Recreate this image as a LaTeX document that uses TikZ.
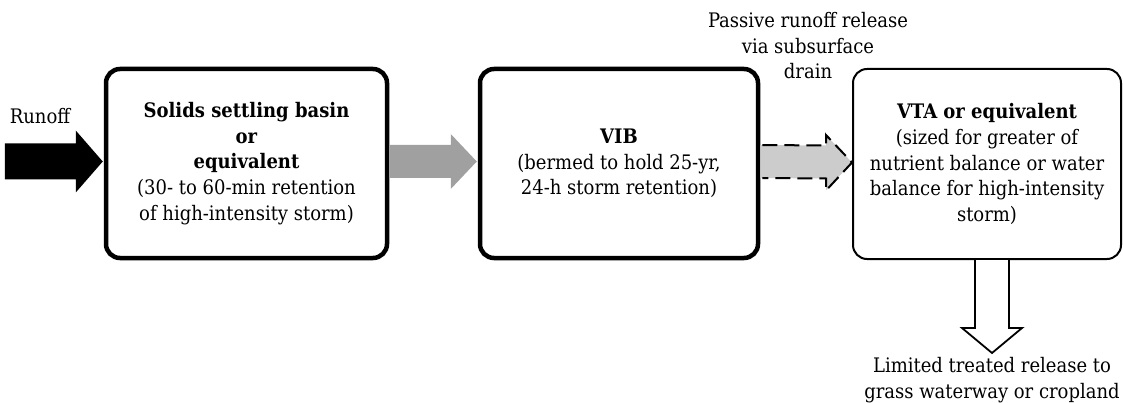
\documentclass[tikz,border=0pt]{standalone}
\usepackage{fontspec}
\setmainfont{DejaVu Serif Condensed}
\usetikzlibrary{calc}
\definecolor{flowgray}{HTML}{A0A0A0}
\definecolor{draingray}{HTML}{CCCCCC}
\tikzset{
  txt/.style={font=\fontsize{20}{25.7}\selectfont, align=center, inner sep=0pt},
  stagebox/.style={txt, draw, rounded corners=14pt, line width=4.5pt},
  thinbox/.style={txt, draw, rounded corners=14pt, line width=2pt},
}
\begin{document}
\begin{tikzpicture}[x=1pt,y=-1pt]
\useasboundingbox (0,0) rectangle (1123,403);

% treatment stages
\node[stagebox, minimum width=281pt, minimum height=189pt] (settle) at (246.5,163.5)
  {\textbf{Solids settling basin}\\\textbf{or}\\\textbf{equivalent}\\(30- to 60-min retention\\of high-intensity storm)};
\node[stagebox, minimum width=278pt, minimum height=189pt] (vib) at (619,163.5)
  {\textbf{VIB}\\(bermed to hold 25-yr,\\24-h storm retention)};
\node[thinbox, minimum width=268pt, minimum height=190pt] (vta) at (987,164)
  {\textbf{VTA or equivalent}\\(sized for greater of\\nutrient balance or water\\balance for high-intensity\\storm)};

% inflow
\fill ($(settle.west)+(-1,-2)$) -- ++(-27,-31) -- ++(0,13) -- ++(-71,0) -- ++(0,36)
  -- ++(71,0) -- ++(0,13) -- cycle;
\node[txt, anchor=north] (runoff) at (40,108) {Runoff};

% settling basin to VIB
\fill[flowgray] ($(settle.east)+(0,-18.5)$) -- ($(vib.west)+(-27,-18.5)$)
  -- ($(vib.west)+(-27,-29.5)$) -- ($(vib.west)+(-1,-2)$) -- ($(vib.west)+(-27,25.5)$)
  -- ($(vib.west)+(-27,14.5)$) -- ($(settle.east)+(0,14.5)$) -- cycle;

% passive release through the subsurface drain
\fill[draingray] ($(vib.east)+(0,-18.5)$) -- ($(vta.west)+(-26,-18.5)$)
  -- ($(vta.west)+(-26,-29)$) -- ($(vta.west)+(0,-1.5)$) -- ($(vta.west)+(-26,26.5)$)
  -- ($(vta.west)+(-26,14.5)$) -- ($(vib.east)+(0,14.5)$) -- cycle;
\draw[line width=2pt, dash pattern=on 15pt off 7pt]
  ($(vib.east)+(2,-18.5)$) -- ($(vta.west)+(-26,-18.5)$)
  -- ($(vta.west)+(-26,-29)$) -- ($(vta.west)+(0,-1.5)$) -- ($(vta.west)+(-26,26.5)$)
  -- ($(vta.west)+(-26,14.5)$) -- ($(vib.east)+(2,14.5)$);
\node[txt, anchor=north] (drainlbl) at (808,12)
  {Passive runoff release\\via subsurface\\drain};

% limited treated release
\draw[line width=1.8pt, fill=white, miter limit=10]
  ($(vta.south)+(-12,0)$) -- ($(vta.south)+(-12,68)$) -- ($(vta.south)+(-25,68)$)
  -- ($(vta.south)+(5,93)$) -- ($(vta.south)+(35,68)$) -- ($(vta.south)+(22,68)$)
  -- ($(vta.south)+(22,0)$);
\node[txt, anchor=north] (outlbl) at (992,357.5)
  {Limited treated release to\\grass waterway or cropland};
\end{tikzpicture}
\end{document}
